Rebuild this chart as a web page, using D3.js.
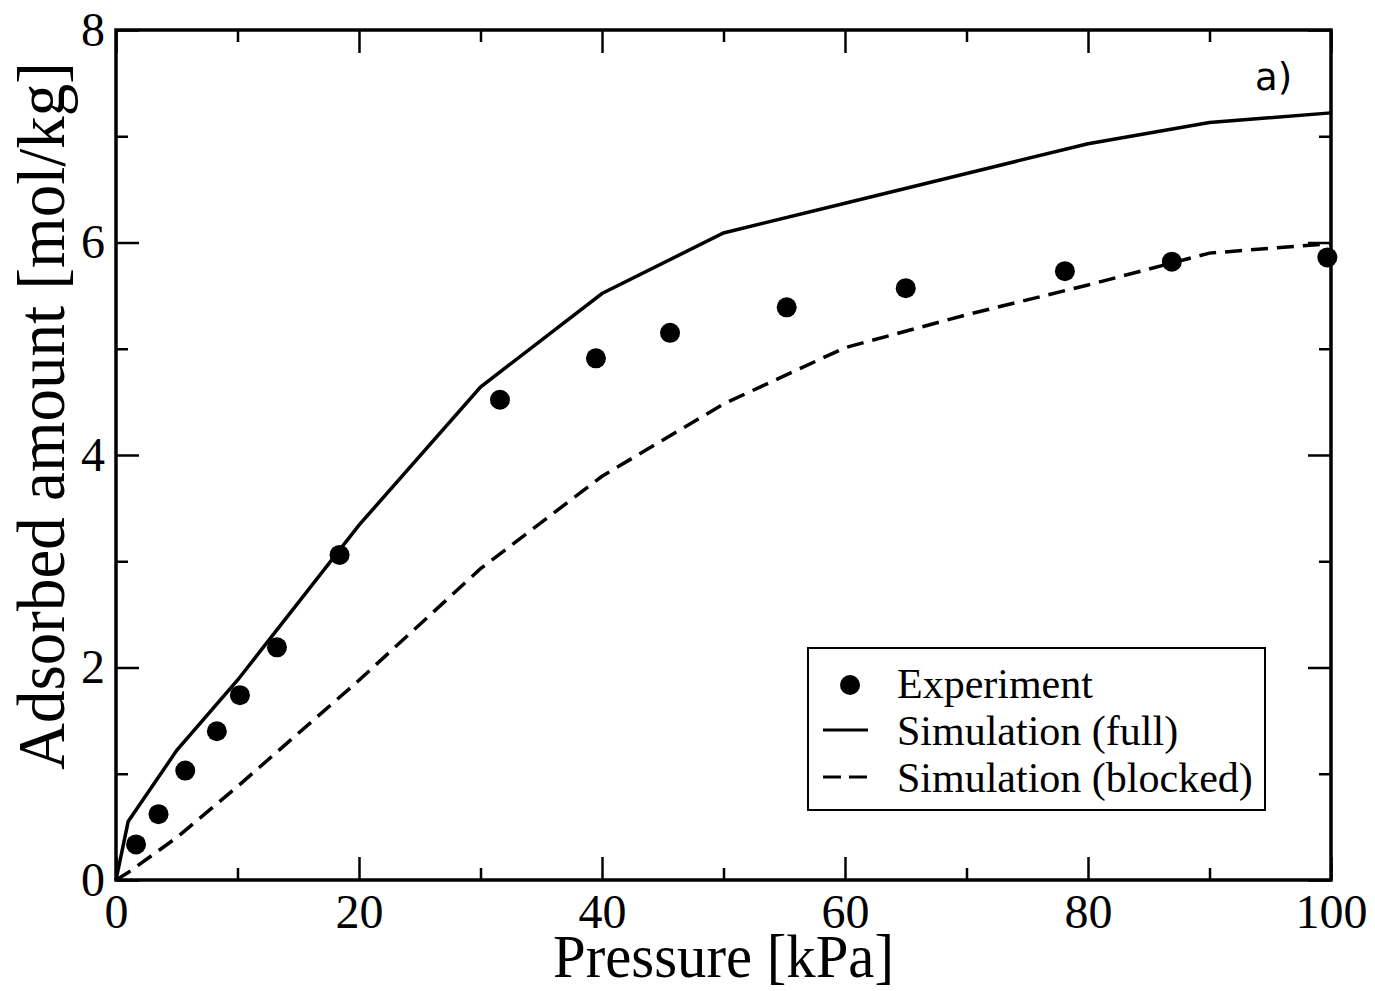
<!DOCTYPE html>
<html>
<head>
<meta charset="utf-8">
<script src="https://cdn.jsdelivr.net/npm/d3@7"></script>
<style>
  body { margin: 0; background: #fff; }
  text { font-family: "Liberation Serif", "Times New Roman", serif; fill: #000; }
</style>
</head>
<body>
<div id="chart"></div>
<script>
// data
var simPressure = [0, 1, 5, 10, 20, 30, 40, 50, 60, 70, 80, 90, 100];
var simFull = [0, 0.55, 1.22, 1.88, 3.34, 4.64, 5.52, 6.09, 6.37, 6.65, 6.93, 7.13, 7.22];
var simBlocked = [0, 0.07, 0.40, 0.88, 1.88, 2.93, 3.80, 4.48, 5.01, 5.32, 5.60, 5.90, 5.99];
var expPressure = [1.65, 3.5, 5.7, 8.3, 10.2, 13.25, 18.4, 31.6, 39.5, 45.6, 55.2, 65.0, 78.1, 86.9, 99.7];
var expAmount = [0.335, 0.62, 1.03, 1.40, 1.74, 2.19, 3.06, 4.52, 4.91, 5.15, 5.39, 5.57, 5.73, 5.82, 5.86];
var xMajor = [0, 20, 40, 60, 80, 100];
var xMinor = [10, 30, 50, 70, 90];
var yMajor = [0, 2, 4, 6, 8];
var yMinor = [1, 3, 5, 7];
var legendLabels = ["Experiment", "Simulation (full)", "Simulation (blocked)"];

// dimensions
var margin = { top: 30, right: 44, bottom: 111, left: 116 },
    width = 1375 - margin.left - margin.right,
    height = 991 - margin.top - margin.bottom;

var svg = d3.select("#chart")
    .append("svg")
    .attr("width", 1375)
    .attr("height", 991)
    .append("g")
    .attr("transform", "translate(" + margin.left + "," + margin.top + ")");

var x = d3.scaleLinear().domain([0, 100]).range([0, width]);
var y = d3.scaleLinear().domain([0, 8]).range([height, 0]);

// axes: ticks point inward, mirrored on top and right
function styleAxis(g) {
    g.select(".domain").remove();
    g.selectAll(".tick line").attr("stroke", "#000").attr("stroke-width", 2.5);
    g.selectAll(".tick text").style("font-size", "48px").attr("fill", "#000");
}

svg.append("g")
    .attr("transform", "translate(0," + height + ")")
    .call(d3.axisBottom(x).tickValues(xMajor).tickSize(-23).tickPadding(14).tickFormat(d3.format("d")))
    .call(styleAxis);
svg.append("g")
    .attr("transform", "translate(0," + height + ")")
    .call(d3.axisBottom(x).tickValues(xMinor).tickSize(-12).tickFormat(""))
    .call(styleAxis);
svg.append("g")
    .call(d3.axisTop(x).tickValues(xMajor).tickSize(-23).tickFormat(""))
    .call(styleAxis);
svg.append("g")
    .call(d3.axisTop(x).tickValues(xMinor).tickSize(-12).tickFormat(""))
    .call(styleAxis);

svg.append("g")
    .call(d3.axisLeft(y).tickValues(yMajor).tickSize(-23).tickPadding(11).tickFormat(d3.format("d")))
    .call(styleAxis);
svg.append("g")
    .call(d3.axisLeft(y).tickValues(yMinor).tickSize(-12).tickFormat(""))
    .call(styleAxis);
svg.append("g")
    .attr("transform", "translate(" + width + ",0)")
    .call(d3.axisRight(y).tickValues(yMajor).tickSize(-23).tickFormat(""))
    .call(styleAxis);
svg.append("g")
    .attr("transform", "translate(" + width + ",0)")
    .call(d3.axisRight(y).tickValues(yMinor).tickSize(-12).tickFormat(""))
    .call(styleAxis);

// frame
svg.append("rect")
    .attr("width", width)
    .attr("height", height)
    .attr("fill", "none")
    .attr("stroke", "#000")
    .attr("stroke-width", 3.5);

// axis titles
svg.append("text")
    .attr("x", width / 2)
    .attr("y", height + 97)
    .attr("text-anchor", "middle")
    .attr("textLength", 341)
    .attr("lengthAdjust", "spacingAndGlyphs")
    .style("font-size", "62px")
    .text("Pressure [kPa]");

svg.append("text")
    .attr("transform", "rotate(-90)")
    .attr("x", -386)
    .attr("y", 64 - margin.left)
    .attr("text-anchor", "middle")
    .attr("textLength", 708)
    .attr("lengthAdjust", "spacingAndGlyphs")
    .style("font-size", "68px")
    .text("Adsorbed amount [mol/kg]");

// panel label
svg.append("text")
    .attr("x", 1255 - margin.left)
    .attr("y", 90 - margin.top)
    .style("font-family", "'DejaVu Sans', sans-serif")
    .style("font-size", "37px")
    .text("a)");

// lines
var simData = simPressure.map(function (p, i) {
    return { p: p, full: simFull[i], blocked: simBlocked[i] };
});

var lineFull = d3.line().x(d => x(d.p)).y(d => y(d.full));
var lineBlocked = d3.line().x(d => x(d.p)).y(d => y(d.blocked));

svg.append("path")
    .datum(simData)
    .attr("d", lineFull)
    .attr("fill", "none")
    .attr("stroke", "#000")
    .attr("stroke-width", 3.5);

svg.append("path")
    .datum(simData)
    .attr("d", lineBlocked)
    .attr("fill", "none")
    .attr("stroke", "#000")
    .attr("stroke-width", 3.5)
    .attr("stroke-dasharray", "17,9");

// experiment points
var expData = expPressure.map(function (p, i) { return { p: p, q: expAmount[i] }; });
svg.selectAll(".exp")
    .data(expData)
    .enter()
    .append("circle")
    .attr("class", "exp")
    .attr("cx", d => x(d.p))
    .attr("cy", d => y(d.q))
    .attr("r", 10)
    .attr("fill", "#000");

// legend
var legend = svg.append("g")
    .attr("transform", "translate(" + (808 - margin.left) + "," + (648 - margin.top) + ")");

legend.append("rect")
    .attr("width", 457)
    .attr("height", 162)
    .attr("fill", "#fff")
    .attr("stroke", "#000")
    .attr("stroke-width", 2);

legend.append("circle")
    .attr("cx", 42)
    .attr("cy", 37)
    .attr("r", 10)
    .attr("fill", "#000");

legend.append("line")
    .attr("x1", 15).attr("x2", 60)
    .attr("y1", 82).attr("y2", 82)
    .attr("stroke", "#000")
    .attr("stroke-width", 3);

legend.append("line")
    .attr("x1", 15).attr("x2", 60)
    .attr("y1", 129).attr("y2", 129)
    .attr("stroke", "#000")
    .attr("stroke-width", 3)
    .attr("stroke-dasharray", "18,8");

legend.selectAll(".lab")
    .data(legendLabels)
    .enter()
    .append("text")
    .attr("class", "lab")
    .attr("x", 89)
    .attr("y", (d, i) => 50 + i * 47)
    .style("font-size", "42px")
    .text(d => d);
</script>
</body>
</html>
